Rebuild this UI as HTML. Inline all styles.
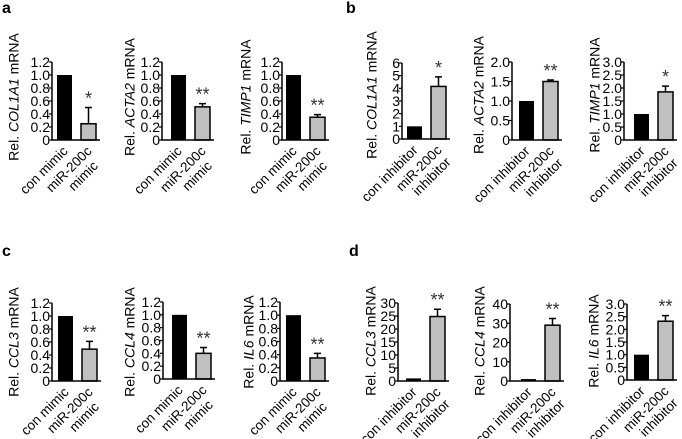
<!DOCTYPE html>
<html><head><meta charset="utf-8">
<style>
html,body{margin:0;padding:0;background:#fff;}
svg{display:block;font-family:"Liberation Sans",Arial,sans-serif;}
</style></head>
<body>
<svg id="fig" width="682" height="439" viewBox="0 0 682 439">
<text x="2" y="13" font-size="16" font-weight="bold">a</text>
<text x="346" y="13" font-size="16" font-weight="bold">b</text>
<text x="2" y="256" font-size="16" font-weight="bold">c</text>
<text x="349" y="256" font-size="16" font-weight="bold">d</text>
</svg>
<script>
// ---- data ----
const genes = ["COL1A1","ACTA2","TIMP1","COL1A1","ACTA2","TIMP1","CCL3","CCL4","IL6","CCL3","CCL4","IL6"];
const controlValues = [1,1,1,1,1,1,1,1,1,1,1,1];
const treatedValues = [0.25,0.51,0.35,4.15,1.5,1.85,0.49,0.40,0.35,24.8,29,2.32];
const treatedErrors = [0.25,0.05,0.04,0.75,0.04,0.22,0.12,0.09,0.07,2.8,3.5,0.22];
const stars = ["*","**","**","*","**","*","**","**","**","**","**","**"];
const axisMax = [1.2,1.2,1.2,6,2,3,1.2,1.2,1.2,30,40,3];
const axisStep = [0.2,0.2,0.2,1,0.5,0.5,0.2,0.2,0.2,5,10,0.5];
const tickDecimals = [1,1,1,0,1,1,1,1,1,0,0,1];
const controlLabels = ["con mimic","con inhibitor"];
const treatedLabels = [["miR-200c","mimic"],["miR-200c","inhibitor"]];
const labelSet = [0,0,0,1,1,1,0,0,0,1,1,1];

// ---- layout (pixels) ----
const layout = [
 {ax:52,bx:57,yt:62,yb:140,tx:14,ty:97},
 {ax:162,bx:171,yt:62,yb:140,tx:130,ty:97},
 {ax:282,bx:286,yt:62,yb:140,tx:246,ty:97},
 {ax:402,bx:407,yt:63,yb:139,tx:372,ty:95},
 {ax:512,bx:519,yt:62,yb:140,tx:479,ty:95},
 {ax:624,bx:634,yt:62,yb:140,tx:595,ty:95},
 {ax:52,bx:58,yt:303,yb:381,tx:14,ty:342},
 {ax:163,bx:172,yt:302,yb:379,tx:130,ty:342},
 {ax:280,bx:286,yt:302,yb:381,tx:249,ty:342},
 {ax:398,bx:406,yt:303,yb:381,tx:371,ty:341},
 {ax:510,bx:521,yt:304,yb:381,tx:480,ty:341},
 {ax:627,bx:634,yt:304,yb:380,tx:594,ty:341}
];
const NS="http://www.w3.org/2000/svg";
const svg=document.getElementById('fig');
function mk(tag,attrs,parent){const e=document.createElementNS(NS,tag);for(const k in attrs)e.setAttribute(k,attrs[k]);(parent||svg).appendChild(e);return e;}
const BW=15, GAP=9, FS=14, TFS=14, XFS=13.5;
for(let i=0;i<genes.length;i++){
  const L=layout[i];
  const g=mk('g',{});
  
  
  const y=v=>L.yb-(v/axisMax[i])*(L.yb-L.yt);
  const gx=L.bx+BW+GAP;
  const b1=mk('rect',{x:L.bx,y:y(controlValues[i]),width:BW,height:L.yb-y(controlValues[i]),fill:'#000'},g);
  
  
  const et=y(treatedValues[i]+treatedErrors[i]);
  const eb=mk('path',{d:`M${gx+BW/2},${y(treatedValues[i])}V${et}M${gx+BW/2-3.5},${et}H${gx+BW/2+3.5}`,stroke:'#000','stroke-width':1.5,fill:'none'},g);
  
  
  const b2=mk('rect',{x:gx,y:y(treatedValues[i]),width:BW,height:L.yb-y(treatedValues[i]),fill:'#c0c0c0',stroke:'#000','stroke-width':1.5},g);
  
  
  const st=mk('text',{x:gx+BW/2,y:et-3,'font-size':18,'text-anchor':'middle',fill:'#333'},g);
  st.textContent=stars[i];
  
  
  const ax=mk('path',{d:`M${L.ax},${L.yt}V${L.yb}H${gx+BW+4}`,stroke:'#000','stroke-width':1.5,fill:'none'},g);
  
  
  const n=Math.round(axisMax[i]/axisStep[i]);
  for(let k=0;k<=n;k++){
    const v=k*axisStep[i], yy=y(v);
    mk('line',{x1:L.ax-3,x2:L.ax,y1:yy,y2:yy,stroke:'#000','stroke-width':1.2},g);
    const t=mk('text',{x:L.ax-2,y:yy+5,'font-size':FS,'text-anchor':'end'},g);
    t.textContent= k===0?'0':v.toFixed(tickDecimals[i]);
    
    
  }
  const tt=mk('text',{x:L.tx,y:L.ty,'font-size':TFS,'text-anchor':'middle',transform:`rotate(-90 ${L.tx} ${L.ty})`,dy:'0.33em'},g);
  
  
  tt.appendChild(document.createTextNode('Rel. '));
  const it=mk('tspan',{'font-style':'italic'},tt); it.textContent=genes[i];
  tt.appendChild(document.createTextNode(' mRNA'));
  const s=labelSet[i];
  const cx1=L.bx+BW/2+4, cy=L.yb+12;
  const xl1=mk('text',{x:cx1,y:cy,'font-size':XFS,'text-anchor':'end',transform:`rotate(-45 ${cx1} ${cy})`},g);
  xl1.textContent=controlLabels[s];
  
  
  const cx2=gx+BW/2+4;
  const xl2=mk('text',{x:cx2,y:cy,'font-size':XFS,'text-anchor':'end',transform:`rotate(-45 ${cx2} ${cy})`},g);
  
  
  const t1=mk('tspan',{x:cx2},xl2); t1.textContent=treatedLabels[s][0];
  const t2=mk('tspan',{x:cx2+(s===0?-6:-2),dy:'1.1em'},xl2); t2.textContent=treatedLabels[s][1];
}
</script>
</body></html>
